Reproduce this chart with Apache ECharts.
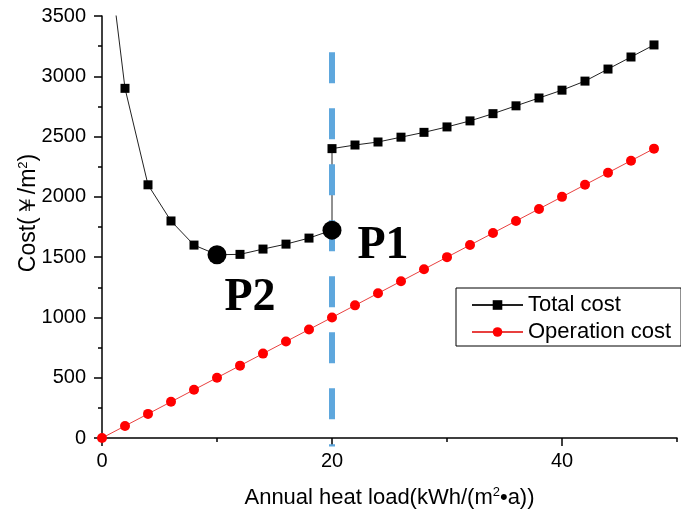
<!DOCTYPE html>
<html>
<head>
<meta charset="utf-8">
<script src="https://cdn.jsdelivr.net/npm/echarts@6/dist/echarts.min.js"></script>
<style>
  html, body { margin: 0; padding: 0; background: #fff; }
  #chart { width: 681px; height: 513px; }
</style>
</head>
<body>
<div id="chart"></div>
<script>
// Annual heat load (kWh/(m²·a)) and cost (￥/m²)
const totalLoad = [1, 2, 4, 6, 8, 10, 12, 14, 16, 18, 20, 20, 22, 24, 26, 28, 30, 32, 34, 36, 38, 40, 42, 44, 46, 48];
const totalCost = [3680, 2900, 2100, 1800, 1600, 1520, 1523, 1567, 1608, 1658, 1724, 2400, 2430, 2455, 2495, 2535, 2580, 2630, 2690, 2755, 2820, 2885, 2960, 3060, 3160, 3260];

const opLoad = [0, 2, 4, 6, 8, 10, 12, 14, 16, 18, 20, 22, 24, 26, 28, 30, 32, 34, 36, 38, 40, 42, 44, 46, 48];
const opCost = [0, 100, 200, 300, 400, 500, 600, 700, 800, 900, 1000, 1100, 1200, 1300, 1400, 1500, 1600, 1700, 1800, 1900, 2000, 2100, 2200, 2300, 2400];

// Highlighted points on the total cost curve
const pointNames = ['P2', 'P1'];
const pointLoad = [10, 20];
const pointCost = [1520, 1724];

// Vertical reference line at 20 kWh/(m²·a)
const refLoad = 20;
const refSpan = [3200, -70];

const xMajorTicks = [0, 20, 40];
const xMinorTicks = [10, 30, 50];

const zip = (a, b) => a.map((v, i) => [v, b[i]]);

const sans = '"Liberation Sans", Arial, sans-serif';
const axisLineStyle = { color: '#000', width: 1.5 };

const chart = echarts.init(document.getElementById('chart'), null, { renderer: 'canvas' });

chart.setOption({
  animation: false,
  backgroundColor: '#fff',
  grid: { left: 102, right: 4, top: 16, bottom: 75, containLabel: false, outerBoundsMode: 'none' },
  legend: {
    orient: 'vertical',
    left: 456,
    top: 288,
    data: ['Total cost', 'Operation cost'],
    itemWidth: 51,
    itemHeight: 12,
    itemGap: 5,
    padding: [6, 10, 3, 15],
    borderColor: '#000',
    borderWidth: 1,
    textStyle: { fontFamily: sans, fontSize: 22, color: '#000' }
  },
  xAxis: [
    {
      type: 'value',
      min: 0,
      max: 50,
      interval: 10,
      name: 'Annual heat load(kWh/(m{sup|2}•a))',
      nameLocation: 'middle',
      nameGap: 48,
      nameMoveOverlap: false,
      nameTextStyle: {
        fontFamily: sans, fontSize: 22, color: '#000',
        rich: { sup: { fontFamily: sans, fontSize: 13, color: '#000', verticalAlign: 'top', padding: [0, 0, 10, 0] } }
      },
      axisLine: { lineStyle: axisLineStyle },
      axisTick: { show: true, length: 8, lineStyle: { color: '#000', width: 1.5 }, customValues: xMajorTicks },
      axisLabel: { fontFamily: sans, fontSize: 20, color: '#000', margin: 13, customValues: xMajorTicks, formatter: v => String(v) },
      splitLine: { show: false }
    },
    {
      type: 'value',
      min: 0,
      max: 50,
      interval: 10,
      position: 'bottom',
      axisLine: { show: false },
      axisTick: { show: true, length: 4, lineStyle: { color: '#000', width: 1.5 }, customValues: xMinorTicks },
      axisLabel: { show: false },
      splitLine: { show: false }
    }
  ],
  yAxis: {
    type: 'value',
    min: 0,
    max: 3500,
    interval: 500,
    name: 'Cost(￥/m{sup|2})',
    nameLocation: 'middle',
    nameGap: 62,
    nameMoveOverlap: false,
    nameTextStyle: {
      fontFamily: sans, fontSize: 23, color: '#000',
      padding: [0, 0, 0, 28],
      rich: { sup: { fontFamily: sans, fontSize: 13, color: '#000', padding: [0, 0, 10, 0] } }
    },
    axisLine: { show: true, lineStyle: axisLineStyle },
    axisTick: { show: true, length: 8, lineStyle: { color: '#000', width: 1.5 } },
    minorTick: { show: true, splitNumber: 2, length: 4, lineStyle: { color: '#000', width: 1.5 } },
    axisLabel: { fontFamily: sans, fontSize: 20, color: '#000', margin: 16, formatter: v => String(v) },
    splitLine: { show: false }
  },
  series: [
    {
      name: 'Operation cost',
      type: 'line',
      data: zip(opLoad, opCost),
      symbol: 'circle',
      symbolSize: 10,
      itemStyle: { color: '#ff0000' },
      lineStyle: { color: '#e8403f', width: 1 },
      clip: true,
      z: 2
    },
    {
      name: 'Total cost',
      type: 'line',
      data: zip(totalLoad, totalCost),
      symbol: 'rect',
      symbolSize: 9,
      itemStyle: { color: '#000' },
      lineStyle: { color: '#222', width: 1 },
      clip: true,
      z: 3
    },
    {
      name: 'reference',
      type: 'line',
      data: refSpan.map(v => [refLoad, v]),
      symbol: 'none',
      clip: false,
      silent: true,
      lineStyle: { color: '#5ea7dd', width: 6, type: [31, 25], cap: 'butt' },
      z: 4
    },
    {
      name: 'points',
      type: 'scatter',
      data: pointNames.map((n, i) => ({
        name: n,
        value: [pointLoad[i], pointCost[i]],
        label: { offset: i === 0 ? [33, 43] : [51, 16] }
      })),
      symbol: 'circle',
      symbolSize: 19,
      itemStyle: { color: '#000', opacity: 1, borderWidth: 0 },
      label: {
        show: true,
        position: 'inside',
        formatter: '{b}',
        fontFamily: '"Liberation Serif", "Times New Roman", serif',
        fontWeight: 'bold',
        fontSize: 46,
        color: '#000',
        opacity: 1
      },
      z: 5
    }
  ]
});
</script>
</body>
</html>
